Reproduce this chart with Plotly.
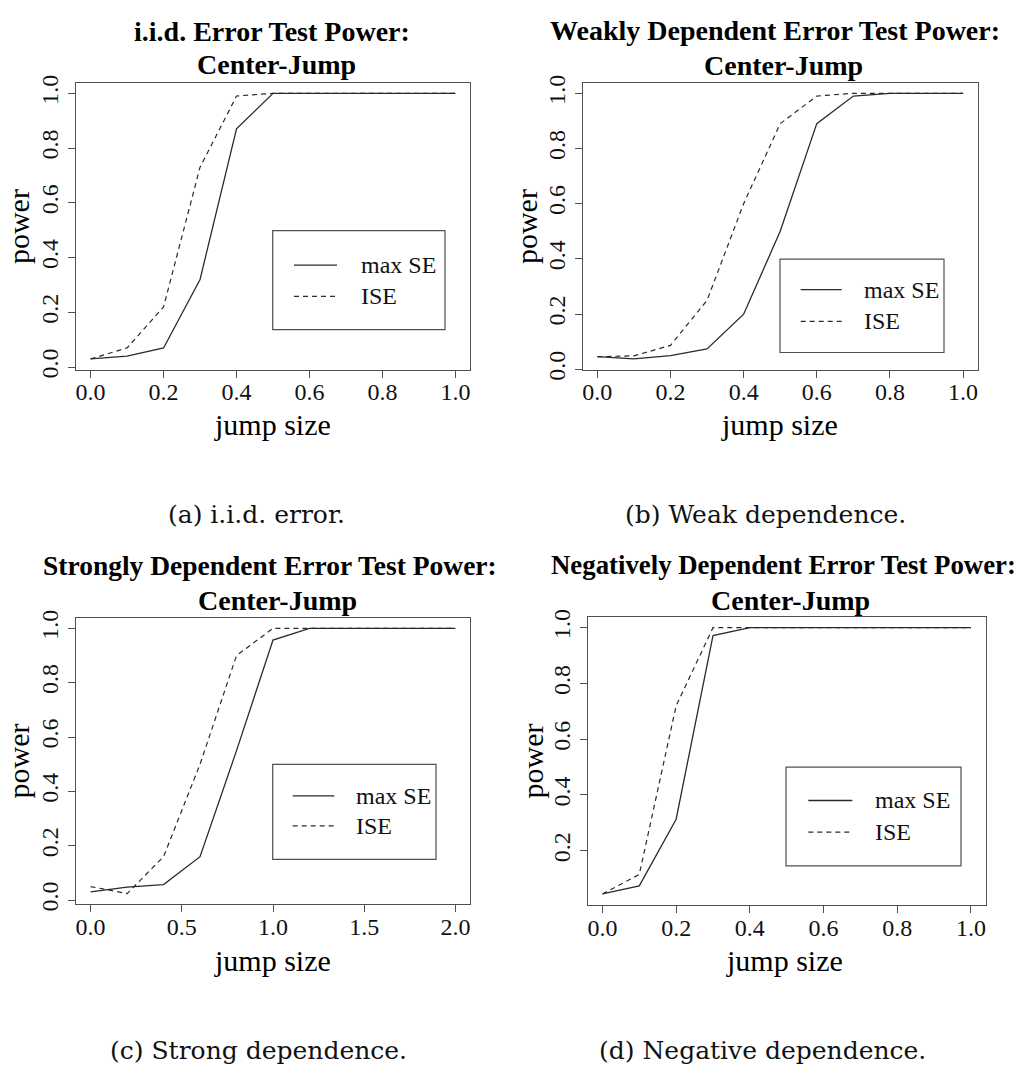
import plotly.graph_objects as go

W, H = 1023, 1078

# ---------------- data ----------------
jump_a = [0.0, 0.1, 0.2, 0.3, 0.4, 0.5, 0.6, 0.7, 0.8, 0.9, 1.0]
maxse_a = [0.03, 0.04, 0.07, 0.32, 0.87, 1.0, 1.0, 1.0, 1.0, 1.0, 1.0]
ise_a = [0.03, 0.07, 0.22, 0.73, 0.99, 1.0, 1.0, 1.0, 1.0, 1.0, 1.0]

jump_b = [0.0, 0.1, 0.2, 0.3, 0.4, 0.5, 0.6, 0.7, 0.8, 0.9, 1.0]
maxse_b = [0.046, 0.038, 0.05, 0.074, 0.2, 0.5, 0.89, 0.99, 1.0, 1.0, 1.0]
ise_b = [0.046, 0.049, 0.087, 0.25, 0.6, 0.89, 0.99, 1.0, 1.0, 1.0, 1.0]

jump_c = [0.0, 0.2, 0.4, 0.6, 0.8, 1.0, 1.2, 1.4, 1.6, 1.8, 2.0]
maxse_c = [0.03, 0.048, 0.057, 0.16, 0.55, 0.957, 1.0, 1.0, 1.0, 1.0, 1.0]
ise_c = [0.05, 0.024, 0.16, 0.5, 0.9, 1.0, 1.0, 1.0, 1.0, 1.0, 1.0]

jump_d = [0.0, 0.1, 0.2, 0.3, 0.4, 0.5, 0.6, 0.7, 0.8, 0.9, 1.0]
maxse_d = [0.045, 0.074, 0.313, 0.972, 1.0, 1.0, 1.0, 1.0, 1.0, 1.0, 1.0]
ise_d = [0.045, 0.115, 0.72, 1.0, 1.0, 1.0, 1.0, 1.0, 1.0, 1.0, 1.0]

xticks_a = [0.0, 0.2, 0.4, 0.6, 0.8, 1.0]
xticks_c = [0.0, 0.5, 1.0, 1.5, 2.0]
yticks_full = [0.0, 0.2, 0.4, 0.6, 0.8, 1.0]
yticks_d = [0.2, 0.4, 0.6, 0.8, 1.0]

series_names = ["max SE", "ISE"]
titles = [
    "i.i.d. Error Test Power:",
    "Weakly Dependent Error Test Power:",
    "Strongly Dependent Error Test Power:",
    "Negatively Dependent Error Test Power:",
]
subtitle = "Center-Jump"
captions = ["(a) i.i.d. error.", "(b) Weak dependence.",
            "(c) Strong dependence.", "(d) Negative dependence."]
xlabel = "jump size"
ylabel = "power"

# ---------------- layout helpers ----------------
def fx(px):
    return px / W

def fy(py):
    return 1 - py / H

SERIF = "Liberation Serif, Times New Roman, serif"
CAPF = "DejaVu Serif, serif"
LINEC = "#2a2a2a"
BOXC = "#505050"

panels = [
    dict(x=jump_a, m=maxse_a, i=ise_a, xt=xticks_a, yt=yticks_full,
         box=(76, 470, 76, 368), title_xy=(272, 23.5, 276, 57.5), tsize=28,
         ylab=(18, 223), xlab=(272, 424), cap=(256, 515.5),
         leg=(272.7, 445, 226.7, 327.3, 294, 337, 261.7, 293.5, 359)),
    dict(x=jump_b, m=maxse_b, i=ise_b, xt=xticks_a, yt=yticks_full,
         box=(582.7, 977.7, 76, 368), title_xy=(775, 23, 783, 58.5), tsize=28,
         ylab=(526, 223), xlab=(779, 424), cap=(765, 515.5),
         leg=(780, 944, 255.7, 350.7, 800.7, 841.7, 286.7, 319, 861.7)),
    dict(x=jump_c, m=maxse_c, i=ise_c, xt=xticks_c, yt=yticks_full,
         box=(76, 470, 620.7, 912.3), title_xy=(270, 567.5, 277, 603.5), tsize=27.5,
         ylab=(18, 767), xlab=(272, 970), cap=(258, 1061),
         leg=(272.7, 436, 770, 866.7, 292.7, 334.3, 802, 832.5, 354.3)),
    dict(x=jump_d, m=maxse_d, i=ise_d, xt=xticks_a, yt=yticks_d,
         box=(587.7, 985.7, 620, 912.7), title_xy=(783, 567.5, 790, 603.5), tsize=26.8,
         ylab=(532, 767), xlab=(784, 970), cap=(762, 1061),
         leg=(786, 961, 772.7, 873.3, 808.3, 852.3, 806.7, 839, 873.3)),
]

fig = go.Figure()
annotations = []
shapes = []

for k, p in enumerate(panels):
    ax = "" if k == 0 else str(k + 1)
    xs = p["x"]
    ally = p["m"] + p["i"]
    ymin, ymax = min(ally), max(ally)
    ypad = 0.04 * (ymax - ymin)
    xpad = 0.04 * (max(xs) - min(xs))

    fig.add_trace(go.Scatter(x=xs, y=p["m"], mode="lines", name=series_names[0],
                             line=dict(color=LINEC, width=1.3),
                             xaxis="x" + ax, yaxis="y" + ax, showlegend=False))
    fig.add_trace(go.Scatter(x=xs, y=p["i"], mode="lines", name=series_names[1],
                             line=dict(color=LINEC, width=1.2, dash="5px,4px"),
                             xaxis="x" + ax, yaxis="y" + ax, showlegend=False))

    x0, x1, y0, y1 = p["box"]
    common = dict(showgrid=False, zeroline=False, showline=True, mirror=True,
                  linecolor=BOXC, linewidth=1.2, ticks="outside", ticklen=7,
                  tickcolor=BOXC, tickwidth=1.2,
                  tickfont=dict(family=SERIF, size=24, color="#111"))
    fig.update_layout(**{
        "xaxis" + ax: dict(common, domain=[fx(x0), fx(x1)],
                           range=[min(xs) - xpad, max(xs) + xpad],
                           tickvals=p["xt"], ticktext=[f"{v:.1f}" for v in p["xt"]],
                           ticklabelstandoff=-6, anchor="y" + ax),
        "yaxis" + ax: dict(common, domain=[fy(y1), fy(y0)],
                           range=[ymin - ypad, ymax + ypad],
                           tickvals=p["yt"], ticktext=[f"{v:.1f}" for v in p["yt"]],
                           tickangle=-90, anchor="x" + ax),
    })

    tx1, ty1, tx2, ty2 = p["title_xy"]
    annotations.append(dict(x=fx(tx1), y=fy(ty1), xref="paper", yref="paper",
                            text="<b>" + titles[k] + "</b>", showarrow=False,
                            xanchor="center", yanchor="middle",
                            font=dict(family=SERIF, size=p["tsize"], color="black")))
    annotations.append(dict(x=fx(tx2), y=fy(ty2), xref="paper", yref="paper",
                            text="<b>" + subtitle + "</b>", showarrow=False,
                            xanchor="center", yanchor="middle",
                            font=dict(family=SERIF, size=28, color="black")))
    annotations.append(dict(x=fx(p["ylab"][0]), y=fy(p["ylab"][1]), xref="paper", yref="paper",
                            text=ylabel, showarrow=False, textangle=-90,
                            xanchor="center", yanchor="middle",
                            font=dict(family=SERIF, size=30, color="black")))
    annotations.append(dict(x=fx(p["xlab"][0]), y=fy(p["xlab"][1]), xref="paper", yref="paper",
                            text=xlabel, showarrow=False,
                            xanchor="center", yanchor="middle",
                            font=dict(family=SERIF, size=30, color="black")))
    annotations.append(dict(x=fx(p["cap"][0]), y=fy(p["cap"][1]), xref="paper", yref="paper",
                            text=captions[k], showarrow=False,
                            xanchor="center", yanchor="middle",
                            font=dict(family=CAPF, size=25, color="#111")))

    # legend box drawn manually
    lx0, lx1, ly0, ly1, sx0, sx1, sy1, sy2, tx = p["leg"]
    shapes.append(dict(type="rect", xref="paper", yref="paper",
                       x0=fx(lx0), x1=fx(lx1), y0=fy(ly1), y1=fy(ly0),
                       line=dict(color=BOXC, width=1.2), fillcolor="rgba(0,0,0,0)"))
    shapes.append(dict(type="line", xref="paper", yref="paper",
                       x0=fx(sx0), x1=fx(sx1), y0=fy(sy1), y1=fy(sy1),
                       line=dict(color=LINEC, width=1.3)))
    shapes.append(dict(type="line", xref="paper", yref="paper",
                       x0=fx(sx0), x1=fx(sx1), y0=fy(sy2), y1=fy(sy2),
                       line=dict(color=LINEC, width=1.2, dash="5px,4px")))
    for name, sy in zip(series_names, (sy1, sy2)):
        annotations.append(dict(x=fx(tx), y=fy(sy), xref="paper", yref="paper",
                                text=name, showarrow=False,
                                xanchor="left", yanchor="middle",
                                font=dict(family=SERIF, size=24, color="#111")))

fig.update_layout(width=W, height=H, margin=dict(l=0, r=0, t=0, b=0),
                  paper_bgcolor="white", plot_bgcolor="white",
                  annotations=annotations, shapes=shapes, showlegend=False)

fig.write_html("out.html")
